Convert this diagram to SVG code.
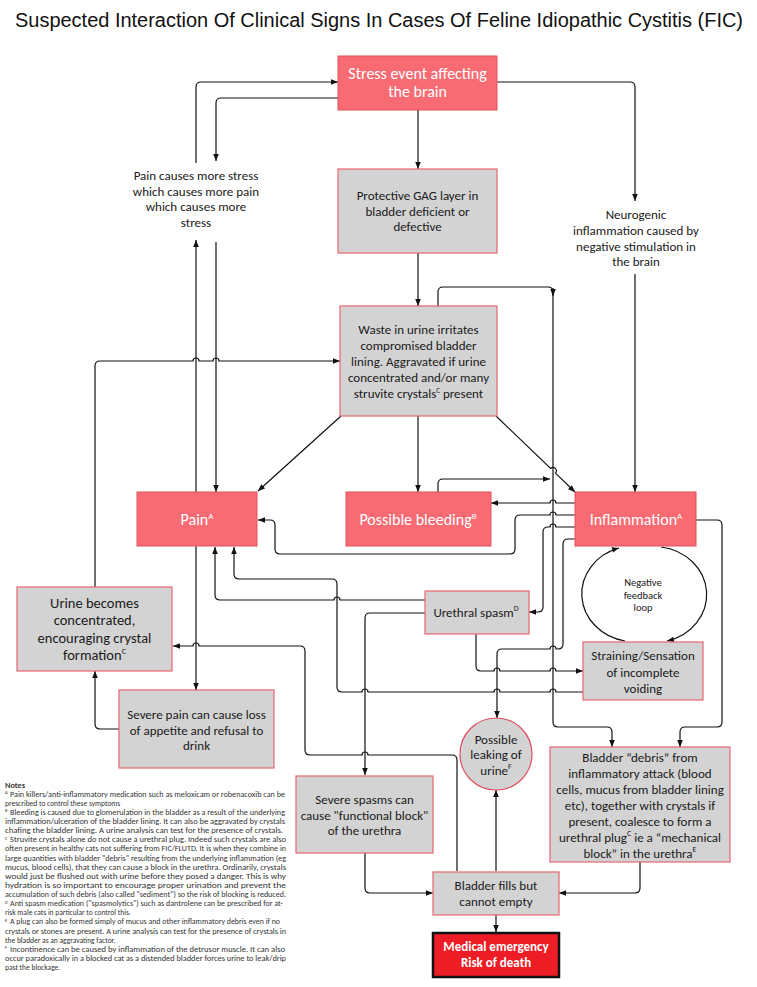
<svg xmlns="http://www.w3.org/2000/svg" width="757" height="987" viewBox="0 0 757 987">
<defs>
<marker id="ah" viewBox="0 0 10 10" refX="10" refY="5" markerUnits="userSpaceOnUse" markerWidth="8" markerHeight="7" orient="auto"><path d="M0,1 L10,5 L0,9 z" fill="#111"/></marker>
<style>
.red{fill:#f96b73;stroke:#e0525b;stroke-width:1}
.gray{fill:#d3d3d3;stroke:#e86670;stroke-width:1.2}
.t{font-family:Carlito,Lato,'Noto Sans',sans-serif;text-anchor:middle;fill:#1a1a1a}
.w{fill:#fff;font-size:16px}
.g{font-size:13px}
.n{font-family:Carlito,Lato,'Noto Sans',sans-serif;font-size:7.5px;fill:#333}
.ns{font-family:Carlito,Lato,'Noto Sans',sans-serif;font-size:4.5px;fill:#333}
#conn path{fill:none;stroke:#111;stroke-width:1.2;marker-end:url(#ah)}
</style>
</defs>
<rect width="757" height="987" fill="#fff"/>
<text x="15" y="27" font-family="'Liberation Sans',Arial,sans-serif" font-size="20" fill="#111" textLength="728" lengthAdjust="spacingAndGlyphs">Suspected Interaction Of Clinical Signs In Cases Of Feline Idiopathic Cystitis (FIC)</text>

<g id="conn">
<path d="M418,110 V169"/>
<path d="M497,82 H630 Q635,82 635,87 V201"/>
<path d="M196,163 V87 Q196,82 201,82 H338"/>
<path d="M338,98 H221 Q216,98 216,103 V161"/>
<path d="M196,492 V240"/>
<path d="M216,242 V492"/>
<path d="M635,274 V492"/>
<path d="M418,253 V306"/>
<path d="M438,306 V292 Q438,287 443,287 H548 Q553,287 553,292 V722 Q553,727 558,727 H607 Q612,727 612,732 V747"/>
<path d="M553,288 V296"/>
<path d="M341,416 L258,491"/>
<path d="M418,416 V492"/>
<path d="M496,416 L550.6,468.5 A3.3,3.3 0 0,1 555.4,473.1 L575,492"/>
<path d="M438,492 V484 Q438,479 443,479 H550"/>
<path d="M575,503 H556 A3,3 0 0,0 550,503 H491"/>
<path d="M575,515 H556 A3,3 0 0,0 550,515 H520 Q515,515 515,520 V549 Q515,554 510,554 H280 Q275,554 275,549 V525 Q275,520 270,520 H258"/>
<path d="M575,527 H556 A3,3 0 0,0 550,527 H548 Q543,527 543,532 V607 Q543,612 538,612 H529"/>
<path d="M575,539 H568 Q563,539 563,544 V644 Q563,649 558,649 H556 A3,3 0 0,0 550,649 H502 Q497,649 497,654 V718"/>
<path d="M696,520 H717 Q722,520 722,525 V722 Q722,727 717,727 H685 Q680,727 680,732 V747"/>
<path d="M476,634 V666 Q476,671 481,671 H494 A3,3 0 0,1 500,671 H550 A3,3 0 0,1 556,671 H583"/>
<path d="M583,692 H556 A3,3 0 0,0 550,692 H500 A3,3 0 0,0 494,692 H368 A3,3 0 0,0 362,692 H342 Q337,692 337,687 V584 Q337,579 332,579 H239 Q234,579 234,574 V547"/>
<path d="M425,600 H340 A3,3 0 0,0 334,600 H220 Q215,600 215,595 V547"/>
<path d="M425,613 H370 Q365,613 365,618 V775"/>
<path d="M196,546 V690"/>
<path d="M457,871 V760 Q457,755 452,755 H368 A3,3 0 0,0 362,755 H310 Q305,755 305,750 V651 Q305,646 300,646 H199 A3,3 0 0,0 193,646 H173"/>
<path d="M119,729 H100 Q95,729 95,724 V671"/>
<path d="M95,587 V366 Q95,361 100,361 H193 A3,3 0 0,1 199,361 H213 A3,3 0 0,1 219,361 H340"/>
<path d="M496,871 V790"/>
<path d="M365,853 V888 Q365,893 370,893 H433"/>
<path d="M640,862 V888 Q640,893 635,893 H559"/>
<path d="M496,915 V932"/>
<path d="M625,641 A53,48 0 0,1 619,548"/>
<path d="M661,547 A53,48 0 0,1 667,641"/>
</g>

<g id="stress"><rect class="red" x="338" y="56" width="159" height="54"/>
<text class="t w" x="417.5" y="79">Stress event affecting</text><text class="t w" x="417.5" y="97">the brain</text></g>

<g id="gag"><rect class="gray" x="338" y="169" width="159" height="84"/>
<text class="t g" x="417.5" y="199.5">Protective GAG layer in</text><text class="t g" x="417.5" y="215.5">bladder deficient or</text><text class="t g" x="417.5" y="231">defective</text></g>

<g id="paincauses">
<text class="t g" x="196" y="179.5">Pain causes more stress</text><text class="t g" x="196" y="195.5">which causes more pain</text><text class="t g" x="196" y="211">which causes more</text><text class="t g" x="196" y="227">stress</text></g>

<g id="neuro">
<text class="t g" x="636" y="218.5">Neurogenic</text><text class="t g" x="636" y="234.5">inflammation caused by</text><text class="t g" x="636" y="250.5">negative stimulation in</text><text class="t g" x="636" y="266">the brain</text></g>

<g id="waste"><rect class="gray" x="340" y="306" width="157" height="110"/>
<text class="t g" x="418.5" y="333.5">Waste in urine irritates</text><text class="t g" x="418.5" y="349.5">compromised bladder</text><text class="t g" x="418.5" y="365.5">lining. Aggravated if urine</text><text class="t g" x="418.5" y="381.5">concentrated and/or many</text><text class="t g" x="418.5" y="397.5">struvite crystals<tspan font-size="7" dy="-5">C</tspan><tspan dy="5"> present</tspan></text></g>

<g id="pain"><rect class="red" x="137" y="492" width="120" height="54"/>
<text class="t w" x="197" y="525">Pain<tspan font-size="9" dy="-6">A</tspan></text></g>

<g id="bleeding"><rect class="red" x="346" y="492" width="145" height="54"/>
<text class="t w" x="418" y="525">Possible bleeding<tspan font-size="9" dy="-6">B</tspan></text></g>

<g id="inflammation"><rect class="red" x="575" y="492" width="121" height="54"/>
<text class="t w" x="636" y="525">Inflammation<tspan font-size="9" dy="-6">A</tspan></text></g>

<g id="urineconc"><rect class="gray" x="17" y="587" width="155" height="84"/>
<text class="t" font-size="14.5" x="94.5" y="607.5">Urine becomes</text><text class="t" font-size="14.5" x="94.5" y="625">concentrated,</text><text class="t" font-size="14.5" x="94.5" y="642.5">encouraging crystal</text><text class="t" font-size="14.5" x="94.5" y="660">formation<tspan font-size="8" dy="-6">C</tspan></text></g>

<g id="spasm"><rect class="gray" x="425" y="591" width="104" height="43"/>
<text class="t g" x="476" y="616.5">Urethral spasm<tspan font-size="8" dy="-6">D</tspan></text></g>

<g id="loop">
<text class="t" font-size="10.5" x="643" y="585.5">Negative</text><text class="t" font-size="10.5" x="643" y="598.5">feedback</text><text class="t" font-size="10.5" x="643" y="611">loop</text></g>

<g id="straining"><rect class="gray" x="583" y="642" width="120" height="58"/>
<text class="t g" x="643" y="660">Straining/Sensation</text><text class="t g" x="643" y="676.5">of incomplete</text><text class="t g" x="643" y="692.5">voiding</text></g>

<g id="severepain"><rect class="gray" x="119" y="690" width="155" height="78"/>
<text class="t g" x="196.5" y="718.5">Severe pain can cause loss</text><text class="t g" x="196.5" y="734.5">of appetite and refusal to</text><text class="t g" x="196.5" y="750">drink</text></g>

<g id="leaking"><circle cx="496" cy="754" r="36" fill="#d3d3d3" stroke="#e05060" stroke-width="1.2"/>
<text class="t g" x="496" y="743.5">Possible</text><text class="t g" x="496" y="759">leaking of</text><text class="t g" x="496" y="774.5">urine<tspan font-size="8" dy="-6">F</tspan></text></g>

<g id="debris"><rect class="gray" x="550" y="747" width="180" height="115"/>
<text class="t g" x="640" y="761.5">Bladder “debris” from</text><text class="t g" x="640" y="777.5">inflammatory attack (blood</text><text class="t g" x="640" y="793.5">cells, mucus from bladder lining</text><text class="t g" x="640" y="809.5">etc), together with crystals if</text><text class="t g" x="640" y="825.5">present, coalesce to form a</text><text class="t g" x="640" y="841.5">urethral plug<tspan font-size="8" dy="-6">C</tspan><tspan dy="6"> ie a “mechanical</tspan></text><text class="t g" x="640" y="857.5">block” in the urethra<tspan font-size="8" dy="-6">E</tspan></text></g>

<g id="severespasms"><rect class="gray" x="296" y="776" width="137" height="77"/>
<text class="t g" x="364.5" y="803.5">Severe spasms can</text><text class="t g" x="364.5" y="819.5">cause "functional block"</text><text class="t g" x="364.5" y="835">of the urethra</text></g>

<g id="bladderfills"><rect class="gray" x="433" y="872" width="126" height="43"/>
<text class="t g" x="496" y="889.5">Bladder fills but</text><text class="t g" x="496" y="905.5">cannot empty</text></g>

<g id="emergency"><rect x="433" y="933" width="126" height="44" fill="#ee1c25" stroke="#111" stroke-width="2.5"/>
<text class="t g" x="496" y="951" font-weight="bold" style="fill:#fff">Medical emergency</text><text class="t g" x="496" y="967" font-weight="bold" style="fill:#fff">Risk of death</text></g>

<g id="notes">
<text class="n" x="5" y="787.5" font-weight="bold" textLength="20" lengthAdjust="spacingAndGlyphs">Notes</text>
<text class="ns" x="5" y="794">A</text>
<text class="n" x="10" y="796.6" textLength="275" lengthAdjust="spacingAndGlyphs">Pain killers/anti-inflammatory medication such as meloxicam or robenacoxib can be</text>
<text class="n" x="5" y="805.8">prescribed to control these symptoms</text>
<text class="ns" x="5" y="812.3">B</text>
<text class="n" x="10" y="814.9" textLength="275" lengthAdjust="spacingAndGlyphs">Bleeding is caused due to glomerulation in the bladder as a result of the underlying</text>
<text class="n" x="5" y="824" textLength="280" lengthAdjust="spacingAndGlyphs">inflammation/ulceration of the bladder lining.  It can also be aggravated by crystals</text>
<text class="n" x="5" y="833.1" textLength="278" lengthAdjust="spacingAndGlyphs">chafing the bladder lining.  A urine analysis can test for the presence of crystals.</text>
<text class="ns" x="5" y="839.7">C</text>
<text class="n" x="10" y="842.3" textLength="276" lengthAdjust="spacingAndGlyphs">Struvite crystals alone do not cause a urethral plug. Indeed such crystals are also</text>
<text class="n" x="5" y="851.4" textLength="281" lengthAdjust="spacingAndGlyphs">often present in healthy cats not suffering from FIC/FLUTD. It is when they combine in</text>
<text class="n" x="5" y="860.5" textLength="281" lengthAdjust="spacingAndGlyphs">large quantities with bladder "debris" resulting from the underlying inflammation (eg</text>
<text class="n" x="5" y="869.7" textLength="281" lengthAdjust="spacingAndGlyphs">mucus, blood cells), that they can cause a block in the urethra. Ordinarily, crystals</text>
<text class="n" x="5" y="878.8" textLength="281" lengthAdjust="spacingAndGlyphs">would just be flushed out with urine before they posed a danger. This is why</text>
<text class="n" x="5" y="887.9" textLength="281" lengthAdjust="spacingAndGlyphs">hydration is so important to encourage proper urination and prevent the</text>
<text class="n" x="5" y="897" textLength="281" lengthAdjust="spacingAndGlyphs">accumulation of such debris (also called "sediment") so the risk of blocking is reduced.</text>
<text class="ns" x="5" y="903.6">D</text>
<text class="n" x="10" y="906.2" textLength="273" lengthAdjust="spacingAndGlyphs">Anti spasm medication ("spasmolytics") such as dantrolene can be prescribed for at-</text>
<text class="n" x="5" y="915.3">risk male cats in particular to control this.</text>
<text class="ns" x="5" y="921.8">E</text>
<text class="n" x="10" y="924.4" textLength="270" lengthAdjust="spacingAndGlyphs">A plug can also be formed simply of mucus and other inflammatory debris even if no</text>
<text class="n" x="5" y="933.6" textLength="281" lengthAdjust="spacingAndGlyphs">crystals or stones are present. A urine analysis can test for the presence of crystals in</text>
<text class="n" x="5" y="942.7">the bladder as an aggravating factor.</text>
<text class="ns" x="5" y="949.2">F</text>
<text class="n" x="10" y="951.8" textLength="275" lengthAdjust="spacingAndGlyphs">Incontinence can be caused by inflammation of the detrusor muscle.  It can also</text>
<text class="n" x="5" y="960.9" textLength="281" lengthAdjust="spacingAndGlyphs">occur paradoxically in a blocked cat as a distended bladder forces urine to leak/drip</text>
<text class="n" x="5" y="970">past the blockage.</text>
</g>
</svg>
